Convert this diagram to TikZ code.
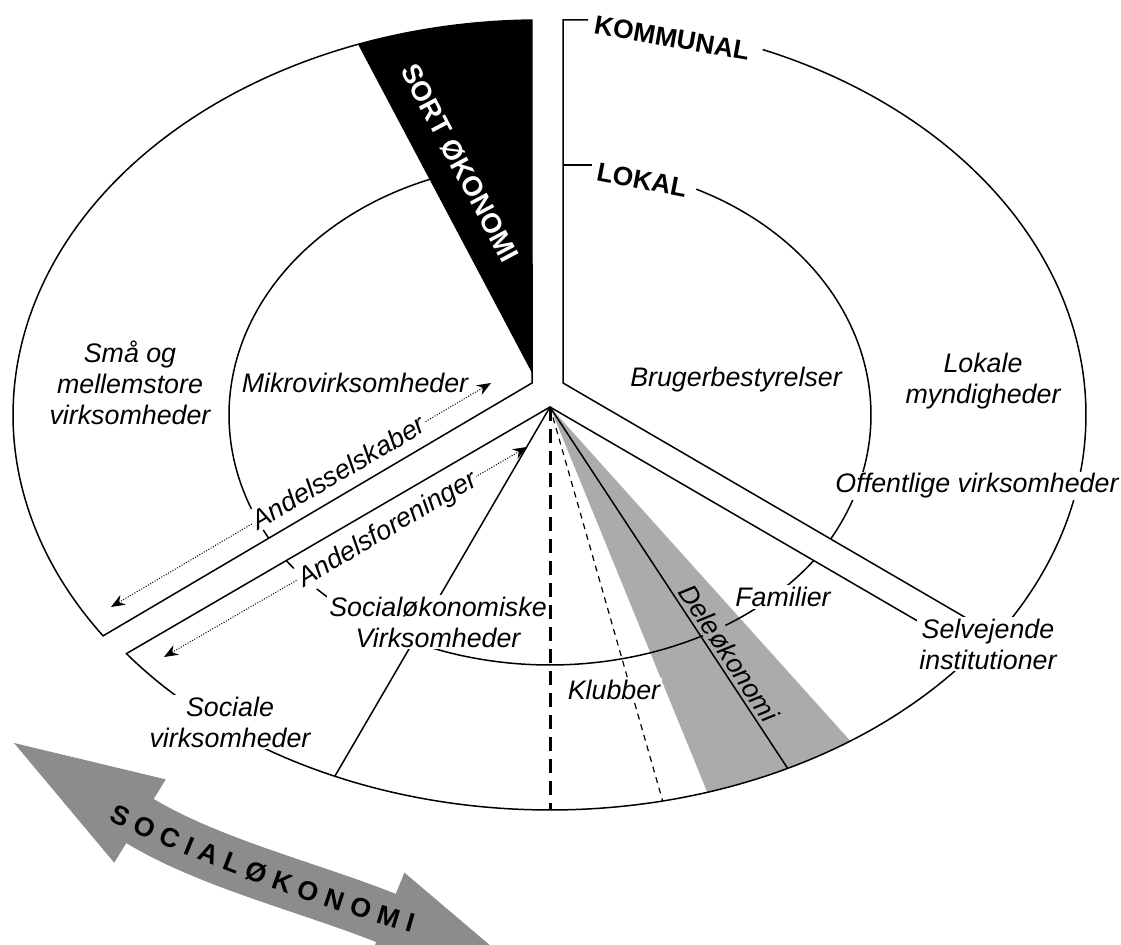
\documentclass[tikz,border=0pt]{standalone}
\usepackage{fontspec}
\setmainfont{Liberation Sans}
\usetikzlibrary{arrows.meta,decorations.text}
\definecolor{wedgegray}{gray}{0.67}
\definecolor{arrowgray}{gray}{0.55}
\newcommand\socfont{\fontsize{13.4}{15.5}\selectfont\bfseries}

\begin{document}
\begin{tikzpicture}[x=0.5pt,y=-0.5pt,
  edge/.style={line width=0.75pt, line join=miter},
  lab/.style={font=\fontsize{13.4}{15.5}\selectfont\itshape, align=center, inner sep=1pt},
  whitelab/.style={lab, fill=white},
  caps/.style={font=\fontsize{13.2}{15}\selectfont\bfseries, inner sep=1pt},
  dotarrow/.style={line width=0.5pt, dash pattern=on 0.5pt off 0.8pt,
    {Stealth[length=7pt,width=5.5pt]}-{Stealth[length=7pt,width=5.5pt]}},
  ell/.style={samples=120, variable=\t},
]
\useasboundingbox (0,0) rectangle (1121,945);

% key points of the three sectors
\coordinate (apexUL) at (532,383);
\coordinate (apexR) at (563,383);
\coordinate (apexB) at (550,407);
\coordinate (topR) at (563,20);
\coordinate (tickK) at (588,20);
\coordinate (tickLa) at (563,165);
\coordinate (tickLb) at (592,165);
\coordinate (wedgeTip) at (532,373);
\coordinate (bottomB) at (550,810);
\coordinate (deleEnd) at ({550+529*cos(63.3)},{420+390*sin(63.3)});
\coordinate (klubEnd) at ({550+529*cos(77.7)},{420+390*sin(77.7)});
\coordinate (socEnd) at ({550+529*cos(114)},{420+390*sin(114)});
\coordinate (andA1) at (111,607);
\coordinate (andA2) at (491,383);
\coordinate (andB1) at (164,657);
\coordinate (andB2) at (527,447);

% grey sharing-economy wedge
\fill[wedgegray] (apexB) -- plot[ell, domain=55.4:72.7] ({550+529*cos(\t)},{420+390*sin(\t)}) -- cycle;

% upper-left sector
\draw[edge] plot[ell, domain=146:269.13] ({540+527*cos(\t)},{415+395*sin(\t)}) -- (apexUL) -- cycle;
\draw[edge] plot[ell, domain=150.7:249.3] ({540+311*cos(\t)},{415+252*sin(\t)});
\fill[black] (wedgeTip) -- plot[ell, domain=249.8:269.13] ({540+527*cos(\t)},{415+395*sin(\t)}) -- cycle;

% right sector with its bracket
\draw[edge] plot[ell, domain=-67.7:34] ({565+521*cos(\t)},{415+395*sin(\t)}) -- (apexR) -- (topR) -- (tickK);
\draw[edge] (tickLa) -- (tickLb);
\draw[edge] plot[ell, domain=-64.6:29.6] ({565+306*cos(\t)},{415+250*sin(\t)});

% bottom sector
\draw[edge] plot[ell, domain=36.8:143.2] ({550+529*cos(\t)},{420+390*sin(\t)}) -- (apexB) -- cycle;
\draw[edge] plot[ell, domain=35:145] ({550+322*cos(\t)},{420+245*sin(\t)});

% rays from the bottom apex
\draw[edge] (apexB) -- (deleEnd);
\draw[line width=0.6pt, dash pattern=on 3pt off 2.5pt] (apexB) -- (klubEnd);
\draw[line width=1.5pt, dash pattern=on 7pt off 4pt] (apexB) -- (bottomB);
\draw[edge] (apexB) -- (socEnd);

% dotted double arrows
\draw[dotarrow] (andA1) -- (andA2);
\draw[dotarrow] (andB1) -- (andB2);

% labels
\node[caps, text=white, font=\fontsize{13.8}{15}\selectfont\bfseries, rotate=-62] (sort) at (460,163) {SORT ØKONOMI};
\node[caps, rotate=-10] (kommunal) at (672,38) {KOMMUNAL};
\node[caps, rotate=-11, fill=white] (lokal) at (642,180) {LOKAL};
\node[lab] (smaa) at (130,383) {Små og\\mellemstore\\virksomheder};
\node[whitelab] (mikro) at (355,383) {Mikrovirksomheder};
\node[lab] (bruger) at (736,380) {Brugerbestyrelser};
\node[lab] (lokale) at (983,381) {Lokale\\myndigheder};
\node[whitelab] (offentlige) at (977,486) {Offentlige virksomheder};
\node[whitelab, rotate=30.5] (andelss) at (338,472) {Andelsselskaber};
\node[whitelab, rotate=30.5] (andelsf) at (388,530) {Andelsforeninger};
\node[whitelab] (socok) at (438,622) {Socialøkonomiske\\Virksomheder};
\node[whitelab] (familier) at (783,597) {Familier};
\node[whitelab] (selvejende) at (988,644) {Selvejende\\institutioner};
\node[whitelab] (klubber) at (614,690) {Klubber};
\node[lab, fill=wedgegray, rotate=-56.7] (dele) at (729,653) {Deleøkonomi};
\node[whitelab] (sociale) at (230,722) {Sociale\\virksomheder};

% curved double arrow
\coordinate (tipL) at (14,743);
\coordinate (hl1) at (165.8,779.4);
\coordinate (hl2) at (114.2,862.7);
\coordinate (shaftL) at (140,821);
\coordinate (c1) at (208,863);
\coordinate (c2) at (311.8,888);
\coordinate (shaftR) at (386,918);
\coordinate (hr1) at (404.4,872.6);
\coordinate (hr2) at (367.6,963.4);
\coordinate (tipR) at (523.2,973.5);
\draw[arrowgray, line width=26pt, shorten <=-1.5pt, shorten >=-1.5pt] (shaftL) .. controls (c1) and (c2) .. (shaftR);
\fill[arrowgray] (tipL) -- (hl1) -- (hl2) -- cycle;
\fill[arrowgray] (tipR) -- (hr1) -- (hr2) -- cycle;
\path[decorate, decoration={text along path, text align=center, raise=-4.8pt,
  text={|\socfont|S O C I A L Ø K O N O M I}}]
  (102,807) .. controls (196,852) and (322,898) .. (425,927);
\end{tikzpicture}
\end{document}
